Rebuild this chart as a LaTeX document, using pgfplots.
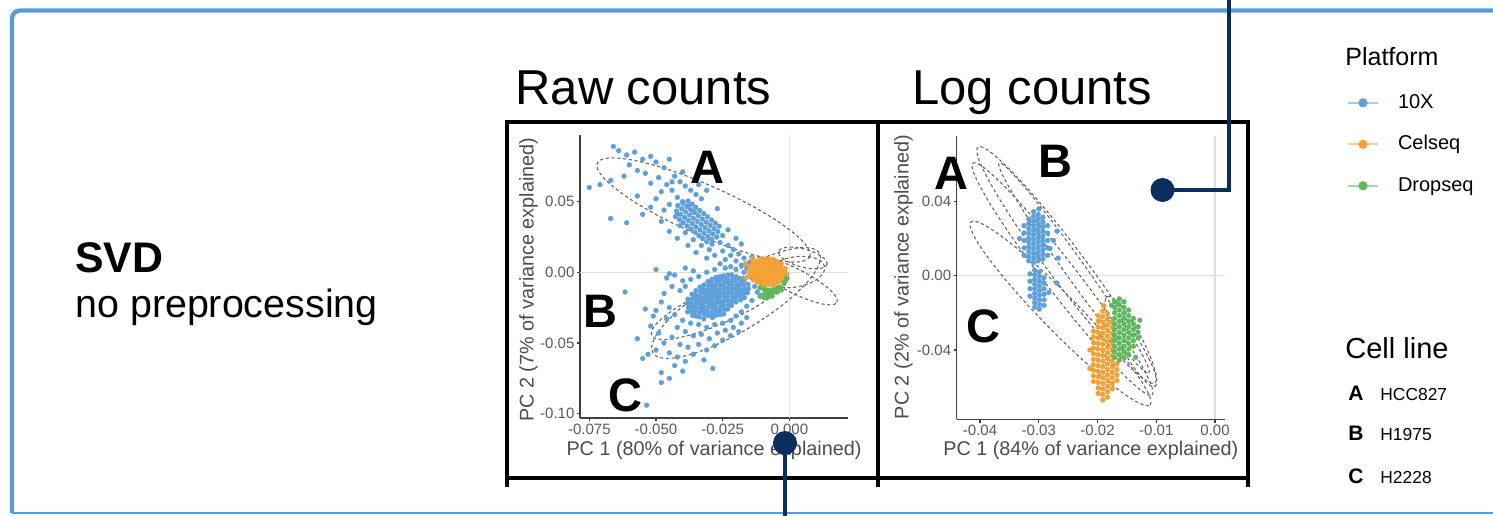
\documentclass[border=0pt]{standalone}
\usepackage{fontspec}
\setmainfont{Liberation Sans}
\usepackage{pgfplots}
\pgfplotsset{compat=1.18}
\definecolor{c10x}{RGB}{93,160,220}
\definecolor{ccel}{RGB}{245,160,51}
\definecolor{cdrop}{RGB}{92,186,92}
\definecolor{navy}{RGB}{12,46,92}
\definecolor{frameblue}{RGB}{91,155,213}
\tikzset{ell/.style={draw=black!60, line width=0.55pt, dash pattern=on 1.6pt off 1.3pt}}
\pgfplotsset{
  pcaxis/.style={
    scale only axis, clip=false,
    axis x line*=bottom, axis y line*=left,
    axis line style={draw=black!75, line width=0.6pt, -},
    every tick/.style={draw=black!75, line width=0.6pt},
    tick align=outside, major tick length=1.6pt,
    scaled x ticks=false, scaled y ticks=false,
    tick label style={font=\fontsize{7.5}{8}\selectfont, text=black!65, inner sep=1pt},
    label style={font=\fontsize{9.9}{11}\selectfont, text=black!70, inner sep=0pt},
  },
  pts/.style={only marks, color=#1, mark=*, mark size=1.2pt, mark options={draw=#1, fill=#1, line width=0.2pt}},
  key/.style={legend image code/.code={
     \draw[#1!55!white, line width=1pt] (0pt,0pt) -- (15pt,0pt);
     \fill[#1] (7.5pt,0pt) circle (2.1pt);
     \path[draw=none, fill=none] (0pt,-1pt) rectangle (25pt,1pt);}},
}
\begin{document}
\begin{tikzpicture}
\path[use as bounding box] (0pt,0pt) rectangle (746.5pt,-257.5pt);

% ---------------- Raw counts ----------------
\begin{axis}[pcaxis,
  at={(290pt,-209pt)}, anchor=south west,
  width=134pt, height=141.5pt,
  xmin=-0.0785, xmax=0.022, ymin=-0.1031, ymax=0.0971,
  xtick={-0.075,-0.05,-0.025,0}, xticklabels={-0.075,-0.050,-0.025,0.000},
  ytick={-0.1,-0.05,0,0.05}, yticklabels={-0.10,-0.05,0.00,0.05},
  xlabel={PC 1 (80\% of variance explained)},
  ylabel={PC 2 (7\% of variance explained)},
  xlabel style={at={(axis description cs:0.5,-0.115)}, anchor=center},
  ylabel style={at={(axis description cs:-0.192,0.489)}, anchor=center},
]
\addplot[forget plot, draw=black!13, line width=0.7pt] coordinates {(0,-0.1031) (0,0.0971)};
\addplot[forget plot, draw=black!13, line width=0.7pt] coordinates {(-0.0785,0) (0.022,0)};
% 10X
\addplot[pts=c10x] coordinates {
(-0.066,0.089)(-0.064,0.086)(-0.061,0.083)(-0.058,0.085)(-0.055,0.080)(-0.060,0.076)(-0.052,0.082)(-0.057,0.072)(-0.050,0.078)(-0.054,0.070)(-0.047,0.074)(-0.062,0.068)(-0.049,0.067)(-0.045,0.080)(-0.052,0.063)(-0.071,0.062)(-0.075,0.060)(-0.067,0.065)
(-0.046,0.062)(-0.043,0.068)(-0.048,0.057)(-0.041,0.064)(-0.044,0.058)(-0.039,0.061)(-0.050,0.052)(-0.042,0.053)(-0.037,0.058)(-0.045,0.048)(-0.040,0.050)(-0.035,0.055)(-0.047,0.044)(-0.038,0.047)(-0.033,0.052)(-0.036,0.043)(-0.042,0.041)(-0.052,0.046)(-0.055,0.041)(-0.031,0.058)(-0.034,0.062)(-0.040,0.071)(-0.044,0.064)
(-0.0418,0.0472)(-0.0403,0.0449)(-0.0389,0.0427)(-0.0374,0.0405)(-0.0360,0.0382)(-0.0345,0.0360)(-0.0330,0.0338)(-0.0316,0.0315)(-0.0301,0.0293)(-0.0287,0.0271)(-0.0272,0.0249)
(-0.0423,0.0433)(-0.0408,0.0410)(-0.0393,0.0388)(-0.0379,0.0366)(-0.0364,0.0344)(-0.0350,0.0321)(-0.0335,0.0299)(-0.0320,0.0277)(-0.0306,0.0254)(-0.0291,0.0232)
(-0.0399,0.0488)(-0.0384,0.0465)(-0.0370,0.0443)(-0.0355,0.0421)(-0.0341,0.0399)(-0.0326,0.0376)(-0.0311,0.0354)(-0.0297,0.0332)(-0.0282,0.0309)(-0.0268,0.0287)
(-0.0427,0.0394)(-0.0412,0.0372)(-0.0398,0.0350)(-0.0383,0.0327)(-0.0369,0.0305)(-0.0354,0.0283)(-0.0339,0.0260)(-0.0325,0.0238)(-0.0310,0.0216)
(-0.0380,0.0504)(-0.0365,0.0482)(-0.0351,0.0460)(-0.0336,0.0437)(-0.0321,0.0415)(-0.0307,0.0393)(-0.0292,0.0370)(-0.0278,0.0348)(-0.0263,0.0326)
(-0.023,0.019)(-0.025,0.015)(-0.021,0.016)(-0.028,0.012)(-0.022,0.012)(-0.019,0.013)(-0.024,0.009)(-0.020,0.008)(-0.017,0.010)(-0.026,0.006)(-0.018,0.005)(-0.015,0.007)(-0.022,0.004)(-0.014,0.011)(-0.016,0.003)(-0.031,0.010)(-0.035,0.014)(-0.038,0.019)(-0.042,0.024)(-0.045,0.029)(-0.023,0.030)(-0.020,0.024)(-0.018,0.020)(-0.048,0.036)(-0.061,0.035)(-0.067,0.038)(-0.057,0.054)
(-0.041,0.033)(-0.027,0.045)(-0.029,0.020)(-0.033,0.019)(-0.036,0.023)(-0.039,0.028)(-0.025,0.026)(-0.030,0.016)(-0.026,0.021)
(-0.0380,-0.019)(-0.0383,-0.022)(-0.0378,-0.025)(-0.0381,-0.028)
(-0.0365,-0.0155)(-0.0362,-0.0185)(-0.0367,-0.0215)(-0.0364,-0.0245)(-0.0366,-0.0275)(-0.0363,-0.0305)
(-0.0350,-0.013)(-0.0353,-0.016)(-0.0348,-0.019)(-0.0351,-0.022)(-0.0349,-0.025)(-0.0352,-0.028)(-0.0350,-0.031)
(-0.0335,-0.0105)(-0.0332,-0.0135)(-0.0337,-0.0165)(-0.0334,-0.0195)(-0.0336,-0.0225)(-0.0333,-0.0255)(-0.0335,-0.0285)(-0.0338,-0.0315)
(-0.0320,-0.009)(-0.0322,-0.012)(-0.0318,-0.015)(-0.0321,-0.018)(-0.0319,-0.021)(-0.0322,-0.024)(-0.0320,-0.027)(-0.0318,-0.030)(-0.0321,-0.033)
(-0.0305,-0.0065)(-0.0303,-0.0095)(-0.0307,-0.0125)(-0.0304,-0.0155)(-0.0306,-0.0185)(-0.0303,-0.0215)(-0.0305,-0.0245)(-0.0307,-0.0275)(-0.0304,-0.0305)
(-0.0290,-0.005)(-0.0292,-0.008)(-0.0288,-0.011)(-0.0291,-0.014)(-0.0289,-0.017)(-0.0292,-0.020)(-0.0290,-0.023)(-0.0288,-0.026)(-0.0291,-0.029)(-0.0289,-0.032)
(-0.0275,-0.0035)(-0.0273,-0.0065)(-0.0277,-0.0095)(-0.0274,-0.0125)(-0.0276,-0.0155)(-0.0273,-0.0185)(-0.0275,-0.0215)(-0.0277,-0.0245)(-0.0274,-0.0275)(-0.0276,-0.0305)
(-0.0260,-0.003)(-0.0262,-0.006)(-0.0258,-0.009)(-0.0261,-0.012)(-0.0259,-0.015)(-0.0262,-0.018)(-0.0260,-0.021)(-0.0258,-0.024)(-0.0261,-0.027)(-0.0259,-0.030)
(-0.0245,-0.0025)(-0.0243,-0.0055)(-0.0247,-0.0085)(-0.0244,-0.0115)(-0.0246,-0.0145)(-0.0243,-0.0175)(-0.0245,-0.0205)(-0.0247,-0.0235)(-0.0244,-0.0265)(-0.0246,-0.0295)
(-0.0230,-0.002)(-0.0232,-0.005)(-0.0228,-0.008)(-0.0231,-0.011)(-0.0229,-0.014)(-0.0232,-0.017)(-0.0230,-0.020)(-0.0228,-0.023)(-0.0231,-0.026)
(-0.0215,-0.0025)(-0.0213,-0.0055)(-0.0217,-0.0085)(-0.0214,-0.0115)(-0.0216,-0.0145)(-0.0213,-0.0175)(-0.0215,-0.0205)(-0.0217,-0.0235)
(-0.0200,-0.003)(-0.0202,-0.006)(-0.0198,-0.009)(-0.0201,-0.012)(-0.0199,-0.015)(-0.0202,-0.018)(-0.0200,-0.021)
(-0.0185,-0.0045)(-0.0183,-0.0075)(-0.0187,-0.0105)(-0.0184,-0.0135)(-0.0186,-0.0165)(-0.0183,-0.0195)
(-0.0170,-0.006)(-0.0172,-0.009)(-0.0168,-0.012)(-0.0171,-0.015)(-0.0169,-0.018)
(-0.0155,-0.0085)(-0.0153,-0.0115)(-0.0157,-0.0145)
(-0.046,-0.004)(-0.043,-0.002)(-0.040,-0.006)(-0.044,-0.010)(-0.041,-0.013)(-0.047,-0.015)(-0.039,-0.010)(-0.037,-0.005)(-0.034,-0.003)(-0.031,0.000)(-0.028,0.002)(-0.024,0.003)(-0.020,0.002)(-0.017,0.000)(-0.014,-0.004)(-0.013,-0.010)(-0.012,-0.014)(-0.014,-0.020)(-0.016,-0.024)(-0.018,-0.028)(-0.020,-0.031)(-0.022,-0.034)(-0.025,-0.036)(-0.028,-0.037)(-0.031,-0.039)(-0.034,-0.037)(-0.037,-0.036)(-0.040,-0.034)(-0.043,-0.030)(-0.045,-0.025)(-0.048,-0.021)(-0.050,-0.027)(-0.046,-0.033)(-0.042,-0.039)(-0.039,-0.042)(-0.036,-0.045)(-0.033,-0.044)(-0.030,-0.047)(-0.027,-0.043)(-0.024,-0.041)(-0.021,-0.039)(-0.018,-0.036)(-0.044,-0.046)(-0.047,-0.050)(-0.041,-0.051)(-0.038,-0.053)(-0.034,-0.051)(-0.031,-0.055)(-0.050,-0.055)(-0.053,-0.058)(-0.045,-0.057)(-0.042,-0.060)(-0.036,-0.058)(-0.039,-0.063)(-0.028,-0.052)(-0.025,-0.048)(-0.049,-0.043)(-0.052,-0.038)(-0.055,-0.061)(-0.048,-0.071)(-0.045,-0.075)(-0.048,-0.078)(-0.0287,-0.068)(-0.0535,-0.094)(-0.0616,-0.014)(-0.057,-0.047)(-0.022,-0.045)(-0.019,-0.042)(-0.016,-0.032)(-0.011,-0.017)(-0.051,-0.031)(-0.054,-0.026)(-0.040,-0.070)(-0.043,-0.066)(-0.032,-0.062)(-0.045,-0.001)(-0.050,0.002)(-0.036,0.001)(-0.039,0.003)
};
% Celseq
\addplot[pts=ccel] coordinates {
(-0.0150,-0.002)(-0.0150,0.001)(-0.0150,0.004)
(-0.0135,-0.0055)(-0.0135,-0.0025)(-0.0135,0.0005)(-0.0135,0.0035)(-0.0135,0.0065)
(-0.012,-0.007)(-0.012,-0.004)(-0.012,-0.001)(-0.012,0.002)(-0.012,0.005)(-0.012,0.008)
(-0.0105,-0.0085)(-0.0105,-0.0055)(-0.0105,-0.0025)(-0.0105,0.0005)(-0.0105,0.0035)(-0.0105,0.0065)(-0.0105,0.0095)
(-0.009,-0.009)(-0.009,-0.006)(-0.009,-0.003)(-0.009,0.000)(-0.009,0.003)(-0.009,0.006)(-0.009,0.009)
(-0.0075,-0.0085)(-0.0075,-0.0055)(-0.0075,-0.0025)(-0.0075,0.0005)(-0.0075,0.0035)(-0.0075,0.0065)(-0.0075,0.0095)
(-0.006,-0.009)(-0.006,-0.006)(-0.006,-0.003)(-0.006,0.000)(-0.006,0.003)(-0.006,0.006)(-0.006,0.009)
(-0.0045,-0.0075)(-0.0045,-0.0045)(-0.0045,-0.0015)(-0.0045,0.0015)(-0.0045,0.0045)(-0.0045,0.0075)
(-0.003,-0.006)(-0.003,-0.003)(-0.003,0.000)(-0.003,0.003)(-0.003,0.006)
(-0.0015,-0.0035)(-0.0015,-0.0005)(-0.0015,0.0025)
(-0.0165,0.006)(-0.0162,-0.004)(-0.0140,0.0095)
};
% Dropseq
\addplot[pts=cdrop] coordinates {
(-0.011,-0.011)(-0.0095,-0.012)(-0.008,-0.0125)(-0.0065,-0.0125)(-0.005,-0.012)(-0.0035,-0.0105)(-0.002,-0.008)(-0.0015,-0.006)(-0.009,-0.015)(-0.0075,-0.015)(-0.006,-0.0145)(-0.0045,-0.014)(-0.003,-0.0125)(-0.0095,-0.018)(-0.008,-0.0175)(-0.0105,-0.0165)(-0.0065,-0.017)(-0.001,-0.004)
};
\draw[ell] (axis cs:-0.03218,0.04408) ellipse [x radius=58pt, y radius=12.5pt, rotate=-23.8];
\draw[ell] (axis cs:-0.01999,-0.02172) ellipse [x radius=48.5pt, y radius=14pt, rotate=31];
\draw[ell] (axis cs:-0.02599,-0.02313) ellipse [x radius=37.5pt, y radius=9pt, rotate=24];
\draw[ell] (axis cs:0.00214,-0.00616) ellipse [x radius=23.5pt, y radius=6pt, rotate=-27];
\draw[ell] (axis cs:0.00506,0.01012) ellipse [x radius=12.5pt, y radius=4.5pt, rotate=-15];
\draw[ell] (axis cs:0.00214,0.0002) ellipse [x radius=15pt, y radius=7.5pt, rotate=10];
\end{axis}

% ---------------- Log counts ----------------
\begin{axis}[pcaxis,
  at={(478.35pt,-209.65pt)}, anchor=south west,
  width=134.15pt, height=141.65pt,
  xmin=-0.04397, xmax=0.0017, ymin=-0.0774, ymax=0.0753,
  xtick={-0.04,-0.03,-0.02,-0.01,0}, xticklabels={-0.04,-0.03,-0.02,-0.01,0.00},
  ytick={-0.04,0,0.04}, yticklabels={-0.04,0.00,0.04},
  xlabel={PC 1 (84\% of variance explained)},
  ylabel={PC 2 (2\% of variance explained)},
  xlabel style={at={(axis description cs:0.5,-0.11)}, anchor=center},
  ylabel style={at={(axis description cs:-0.198,0.502)}, anchor=center},
  legend cell align=left,
  legend style={at={(axis description cs:1.4547,1.1497)}, anchor=north west,
    draw=none, fill=none, inner sep=0pt, outer sep=0pt, row sep=11.55pt,
    font=\fontsize{10}{12}\selectfont,
    nodes={inner sep=0pt, text height=7.2pt, text depth=2pt}},
]
\addplot[forget plot, draw=black!13, line width=0.7pt] coordinates {(0,-0.0774) (0,0.0753)};
\addplot[forget plot, draw=black!13, line width=0.7pt] coordinates {(-0.04397,0) (0.0017,0)};
\addplot[pts=c10x, key=c10x] coordinates {
(-0.0325,0.011)(-0.0325,0.015)(-0.0325,0.019)(-0.0325,0.023)(-0.0325,0.027)
(-0.0317,0.008)(-0.0317,0.0105)(-0.0317,0.013)(-0.0317,0.0155)(-0.0317,0.018)(-0.0317,0.0205)(-0.0317,0.023)(-0.0317,0.0255)(-0.0317,0.028)(-0.0317,0.0305)
(-0.0309,0.007)(-0.0309,0.0095)(-0.0309,0.012)(-0.0309,0.0145)(-0.0309,0.017)(-0.0309,0.0195)(-0.0309,0.022)(-0.0309,0.0245)(-0.0309,0.027)(-0.0309,0.0295)(-0.0309,0.032)(-0.0309,0.0345)
(-0.0301,0.008)(-0.0301,0.0105)(-0.0301,0.013)(-0.0301,0.0155)(-0.0301,0.018)(-0.0301,0.0205)(-0.0301,0.023)(-0.0301,0.0255)(-0.0301,0.028)(-0.0301,0.0305)(-0.0301,0.033)
(-0.0293,0.009)(-0.0293,0.0115)(-0.0293,0.014)(-0.0293,0.0165)(-0.0293,0.019)(-0.0293,0.0215)(-0.0293,0.024)(-0.0293,0.0265)(-0.0293,0.029)(-0.0293,0.0315)
(-0.0285,0.011)(-0.0285,0.015)(-0.0285,0.019)(-0.0285,0.023)(-0.0285,0.027)
(-0.0281,0.0147)(-0.0267,0.0095)(-0.0275,0.019)(-0.0333,0.020)(-0.0269,0.024)(-0.0300,0.0360)
(-0.0315,0.001)(-0.0315,-0.003)(-0.0315,-0.007)(-0.0315,-0.011)
(-0.0307,0.003)(-0.0307,0.0005)(-0.0307,-0.002)(-0.0307,-0.0045)(-0.0307,-0.007)(-0.0307,-0.0095)(-0.0307,-0.012)(-0.0307,-0.0145)(-0.0307,-0.017)
(-0.0299,0.002)(-0.0299,-0.0005)(-0.0299,-0.003)(-0.0299,-0.0055)(-0.0299,-0.008)(-0.0299,-0.0105)(-0.0299,-0.013)(-0.0299,-0.0155)(-0.0299,-0.018)
(-0.0291,-0.001)(-0.0291,-0.004)(-0.0291,-0.007)(-0.0291,-0.010)(-0.0291,-0.013)(-0.0291,-0.016)
(-0.0269,-0.004)(-0.0283,-0.009)
};
\addlegendentry{10X}
\addplot[pts=ccel, key=ccel] coordinates {
(-0.0207,-0.030)(-0.0207,-0.033)(-0.0207,-0.036)(-0.0207,-0.039)(-0.0207,-0.042)(-0.0207,-0.045)(-0.0207,-0.048)(-0.0207,-0.051)(-0.0207,-0.054)(-0.0207,-0.057)
(-0.0199,-0.0215)(-0.0199,-0.0245)(-0.0199,-0.0275)(-0.0199,-0.0305)(-0.0199,-0.0335)(-0.0199,-0.0365)(-0.0199,-0.0395)(-0.0199,-0.0425)(-0.0199,-0.0455)(-0.0199,-0.0485)(-0.0199,-0.0515)(-0.0199,-0.0545)(-0.0199,-0.0575)(-0.0199,-0.0605)(-0.0199,-0.0635)
(-0.0191,-0.019)(-0.0191,-0.022)(-0.0191,-0.025)(-0.0191,-0.028)(-0.0191,-0.031)(-0.0191,-0.034)(-0.0191,-0.037)(-0.0191,-0.040)(-0.0191,-0.043)(-0.0191,-0.046)(-0.0191,-0.049)(-0.0191,-0.052)(-0.0191,-0.055)(-0.0191,-0.058)(-0.0191,-0.061)(-0.0191,-0.064)(-0.0191,-0.067)
(-0.0183,-0.0205)(-0.0183,-0.0235)(-0.0183,-0.0265)(-0.0183,-0.0295)(-0.0183,-0.0325)(-0.0183,-0.0355)(-0.0183,-0.0385)(-0.0183,-0.0415)(-0.0183,-0.0445)(-0.0183,-0.0475)(-0.0183,-0.0505)(-0.0183,-0.0535)(-0.0183,-0.0565)(-0.0183,-0.0595)(-0.0183,-0.0625)(-0.0183,-0.0655)
(-0.0175,-0.025)(-0.0175,-0.028)(-0.0175,-0.031)(-0.0175,-0.034)(-0.0175,-0.037)(-0.0175,-0.040)(-0.0175,-0.043)(-0.0175,-0.046)(-0.0175,-0.049)(-0.0175,-0.052)(-0.0175,-0.055)(-0.0175,-0.058)(-0.0175,-0.061)
(-0.0167,-0.0475)(-0.0167,-0.0505)(-0.0167,-0.0535)(-0.0167,-0.0565)
(-0.0213,-0.040)(-0.0213,-0.050)(-0.0190,-0.016)
};
\addlegendentry{Celseq}
\addplot[pts=cdrop, key=cdrop] coordinates {
(-0.0171,-0.014)(-0.0171,-0.017)(-0.0171,-0.020)(-0.0171,-0.023)(-0.0171,-0.026)(-0.0171,-0.029)(-0.0171,-0.032)(-0.0171,-0.035)(-0.0171,-0.038)(-0.0171,-0.041)(-0.0171,-0.044)
(-0.0163,-0.0125)(-0.0163,-0.0155)(-0.0163,-0.0185)(-0.0163,-0.0215)(-0.0163,-0.0245)(-0.0163,-0.0275)(-0.0163,-0.0305)(-0.0163,-0.0335)(-0.0163,-0.0365)(-0.0163,-0.0395)(-0.0163,-0.0425)(-0.0163,-0.0455)
(-0.0155,-0.014)(-0.0155,-0.017)(-0.0155,-0.020)(-0.0155,-0.023)(-0.0155,-0.026)(-0.0155,-0.029)(-0.0155,-0.032)(-0.0155,-0.035)(-0.0155,-0.038)(-0.0155,-0.041)(-0.0155,-0.044)
(-0.0147,-0.0185)(-0.0147,-0.0215)(-0.0147,-0.0245)(-0.0147,-0.0275)(-0.0147,-0.0305)(-0.0147,-0.0335)(-0.0147,-0.0365)(-0.0147,-0.0395)(-0.0147,-0.0425)
(-0.0139,-0.023)(-0.0139,-0.026)(-0.0139,-0.029)(-0.0139,-0.032)(-0.0139,-0.035)(-0.0139,-0.038)
(-0.0131,-0.0275)(-0.0131,-0.0305)(-0.0131,-0.0335)
(-0.0128,-0.024)(-0.0135,-0.044)(-0.0176,-0.016)
};
\addlegendentry{Dropseq}
\draw[ell] (axis cs:-0.02528,0.00577) ellipse [x radius=73.75pt, y radius=9pt, rotate=-53.1];
\draw[ell] (axis cs:-0.02596,-0.00178) ellipse [x radius=73.25pt, y radius=8pt, rotate=-52.3];
\draw[ell] (axis cs:-0.02630,-0.02032) ellipse [x radius=64pt, y radius=9pt, rotate=-45.6];
\draw[ell] (axis cs:-0.02400,0.00415) ellipse [x radius=64.5pt, y radius=5pt, rotate=-54.5];
\draw[ell] (axis cs:-0.01430,-0.03542) ellipse [x radius=25.5pt, y radius=5.5pt, rotate=-62];
\end{axis}

\begin{scope}[x=0.5pt, y=-0.5pt]
% blue frame
\draw[frameblue, line width=2.2pt, rounded corners=4pt] (1510,10.5) -- (12,10.5) -- (12,513);
\draw[frameblue, line width=1pt] (12,512.7) -- (1510,512.7);
% black panel frame
\draw[black, line width=2pt] (505,122) -- (1250,122);
\draw[black, line width=2pt] (507,121) -- (507,487);
\draw[black, line width=2pt] (878,121) -- (878,487);
\draw[black, line width=2pt] (1248,121) -- (1248,487);
\draw[black, line width=1.8pt] (507,478) -- (1248,478);
% titles
\node[anchor=base west, inner sep=0pt, font=\fontsize{24.5}{28}\selectfont] at (515,104) {Raw counts};
\node[anchor=base west, inner sep=0pt, font=\fontsize{24.5}{28}\selectfont] at (912,104) {Log counts};
\node[anchor=base west, inner sep=0pt, font=\bfseries\fontsize{21.4}{24}\selectfont] at (75,272) {SVD};
\node[anchor=base west, inner sep=0pt, font=\fontsize{19.7}{22}\selectfont] at (75,317) {no preprocessing};
% cell-line letters in panels
\node[anchor=base, inner sep=0pt, font=\bfseries\fontsize{23.5}{26}\selectfont] at (707,183) {A};
\node[anchor=base, inner sep=0pt, font=\bfseries\fontsize{23.5}{26}\selectfont] at (600,327) {B};
\node[anchor=base, inner sep=0pt, font=\bfseries\fontsize{23.5}{26}\selectfont] at (625,411) {C};
\node[anchor=base, inner sep=0pt, font=\bfseries\fontsize{23.5}{26}\selectfont] at (951,189) {A};
\node[anchor=base, inner sep=0pt, font=\bfseries\fontsize{23.5}{26}\selectfont] at (1055,177) {B};
\node[anchor=base, inner sep=0pt, font=\bfseries\fontsize{23.5}{26}\selectfont] at (983,342) {C};
% legend titles and cell lines
\node[anchor=base west, inner sep=0pt, font=\fontsize{12.5}{14}\selectfont] at (1345,65) {Platform};
\node[anchor=base west, inner sep=0pt, font=\fontsize{14.5}{16}\selectfont] at (1345,358) {Cell line};
\node[anchor=base west, inner sep=0pt, font=\bfseries\fontsize{10.5}{12}\selectfont] at (1348,400) {A};
\node[anchor=base west, inner sep=0pt, font=\fontsize{8.7}{10}\selectfont] at (1380,400) {HCC827};
\node[anchor=base west, inner sep=0pt, font=\bfseries\fontsize{10.5}{12}\selectfont] at (1348,440) {B};
\node[anchor=base west, inner sep=0pt, font=\fontsize{8.7}{10}\selectfont] at (1380,440) {H1975};
\node[anchor=base west, inner sep=0pt, font=\bfseries\fontsize{10.5}{12}\selectfont] at (1348,483) {C};
\node[anchor=base west, inner sep=0pt, font=\fontsize{8.7}{10}\selectfont] at (1380,483) {H2228};
% callouts
\draw[navy, line width=2pt] (1162.5,190) -- (1229,190) -- (1229,-5);
\fill[navy] (1162.5,190) circle (12);
\draw[navy, line width=2pt] (785,443) -- (785,520);
\fill[navy] (785,443) circle (12);
\end{scope}
\end{tikzpicture}
\end{document}
